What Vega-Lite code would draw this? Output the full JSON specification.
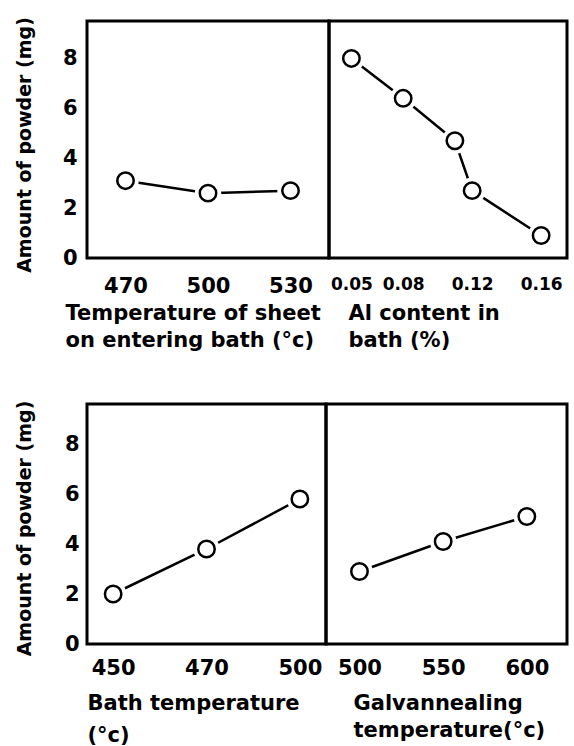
{
  "$schema": "https://vega.github.io/schema/vega-lite/v6.json",
  "background": "white",
  "padding": {"left": 13, "top": 15, "right": 0, "bottom": 0},
  "config": {
    "view": {"stroke": "black", "strokeWidth": 3},
    "font": "DejaVu Sans",
    "axis": {
      "domain": false,
      "ticks": false,
      "grid": false,
      "labelFont": "DejaVu Sans",
      "labelFontWeight": "bold",
      "labelFontSize": 21,
      "labelColor": "black",
      "labelOverlap": false,
      "labelFlush": false,
      "titleFont": "DejaVu Sans",
      "titleFontWeight": "bold",
      "titleFontSize": 21,
      "titleColor": "black"
    }
  },
  "datasets": {
    "sheet": [
      {"temp": 470, "powder": 3.1},
      {"temp": 500, "powder": 2.6},
      {"temp": 530, "powder": 2.7}
    ],
    "al": [
      {"al": 0.05, "powder": 8.0},
      {"al": 0.08, "powder": 6.4},
      {"al": 0.11, "powder": 4.7},
      {"al": 0.12, "powder": 2.7},
      {"al": 0.16, "powder": 0.9}
    ],
    "bath": [
      {"bath": 450, "powder": 2.0},
      {"bath": 470, "powder": 3.8},
      {"bath": 500, "powder": 5.8}
    ],
    "galv": [
      {"galv": 500, "powder": 2.9},
      {"galv": 550, "powder": 4.1},
      {"galv": 600, "powder": 5.1}
    ],
    "powder_ticks": [
      {"powder": 2},
      {"powder": 4},
      {"powder": 6},
      {"powder": 8}
    ]
  },
  "columns": 1,
  "align": "none",
  "spacing": 46,
  "concat": [
    {
      "spacing": 0,
      "bounds": "flush",
      "hconcat": [
        {
          "width": 242,
          "height": 237,
          "encoding": {
            "x": {
              "field": "temp",
              "type": "quantitative",
              "scale": {"domain": [456, 544], "nice": false, "zero": false},
              "axis": {
                "values": [470, 500, 530],
                "labelPadding": 17,
                "title": ["Temperature of sheet", "on entering bath (°c)"],
                "titleAlign": "left",
                "titleBaseline": "alphabetic",
                "titleX": -22,
                "titleY": 61,
                "titleLineHeight": 27
              }
            },
            "y": {
              "field": "powder",
              "type": "quantitative",
              "scale": {"domain": [0, 9.5], "nice": false},
              "axis": {
                "values": [0, 2, 4, 6, 8],
                "labelPadding": 10,
                "title": "Amount of powder (mg)",
                "titleFontSize": 19,
                "titleY": 123.5,
                "titlePadding": 28
              }
            }
          },
          "layer": [
            {
              "data": {"values": [{"temp": 470}, {"temp": 500}, {"temp": 530}]},
              "mark": {"type": "rule", "color": "black", "opacity": 1, "strokeWidth": 3},
              "encoding": {"y": {"datum": 0}, "y2": {"datum": 0.45}}
            },
            {
              "data": {"name": "powder_ticks"},
              "mark": {"type": "rule", "color": "black", "opacity": 1, "strokeWidth": 3},
              "encoding": {"x": {"datum": 456}, "x2": {"datum": 459.5}}
            },
            {"data": {"name": "sheet"}, "mark": {"type": "line", "color": "black", "strokeWidth": 2.5}},
            {"data": {"name": "sheet"}, "mark": {"type": "point", "shape": "circle", "filled": true, "color": "white", "opacity": 1, "size": 700}},
            {"data": {"name": "sheet"}, "mark": {"type": "point", "shape": "circle", "filled": false, "color": "black", "fill": "white", "fillOpacity": 1, "opacity": 1, "strokeWidth": 2.5, "size": 270}}
          ]
        },
        {
          "width": 238,
          "height": 237,
          "encoding": {
            "x": {
              "field": "al",
              "type": "quantitative",
              "scale": {"domain": [0.037, 0.175], "nice": false, "zero": false},
              "axis": {
                "values": [0.05, 0.08, 0.12, 0.16],
                "format": ".2f",
                "labelFontSize": 17,
                "labelPadding": 18,
                "title": ["Al content in", "bath (%)"],
                "titleAlign": "left",
                "titleBaseline": "alphabetic",
                "titleX": 19,
                "titleY": 61,
                "titleLineHeight": 27
              }
            },
            "y": {
              "field": "powder",
              "type": "quantitative",
              "scale": {"domain": [0, 9.5], "nice": false},
              "axis": null
            }
          },
          "layer": [
            {
              "data": {"values": [{"al": 0.05}, {"al": 0.08}, {"al": 0.12}, {"al": 0.16}]},
              "mark": {"type": "rule", "color": "black", "opacity": 1, "strokeWidth": 3},
              "encoding": {"y": {"datum": 0}, "y2": {"datum": 0.45}}
            },
            {"data": {"name": "al"}, "mark": {"type": "line", "color": "black", "strokeWidth": 2.5}},
            {"data": {"name": "al"}, "mark": {"type": "point", "shape": "circle", "filled": true, "color": "white", "opacity": 1, "size": 700}},
            {"data": {"name": "al"}, "mark": {"type": "point", "shape": "circle", "filled": false, "color": "black", "fill": "white", "fillOpacity": 1, "opacity": 1, "strokeWidth": 2.5, "size": 270}}
          ]
        }
      ]
    },
    {
      "spacing": 0,
      "bounds": "flush",
      "hconcat": [
        {
          "width": 239,
          "height": 240,
          "encoding": {
            "x": {
              "field": "bath",
              "type": "ordinal",
              "sort": "ascending",
              "scale": {"type": "point", "padding": 0.28, "domain": [450, 470, 500]},
              "axis": {
                "labelAngle": 0,
                "labelPadding": 13,
                "title": ["Bath temperature", "(°c)"],
                "titleAlign": "left",
                "titleBaseline": "alphabetic",
                "titleX": 0,
                "titleY": 65,
                "titleLineHeight": 32
              }
            },
            "y": {
              "field": "powder",
              "type": "quantitative",
              "scale": {"domain": [0, 9.6], "nice": false},
              "axis": {
                "values": [0, 2, 4, 6, 8],
                "labelPadding": 8,
                "title": "Amount of powder (mg)",
                "titleFontSize": 19,
                "titleY": 124,
                "titlePadding": 30
              }
            }
          },
          "layer": [
            {
              "data": {"values": [{"bath": 450}, {"bath": 470}, {"bath": 500}]},
              "mark": {"type": "rule", "color": "black", "opacity": 1, "strokeWidth": 3},
              "encoding": {"y": {"datum": 0}, "y2": {"datum": 0.45}}
            },
            {"data": {"name": "bath"}, "mark": {"type": "line", "color": "black", "strokeWidth": 2.5}},
            {"data": {"name": "bath"}, "mark": {"type": "point", "shape": "circle", "filled": true, "color": "white", "opacity": 1, "size": 700}},
            {"data": {"name": "bath"}, "mark": {"type": "point", "shape": "circle", "filled": false, "color": "black", "fill": "white", "fillOpacity": 1, "opacity": 1, "strokeWidth": 2.5, "size": 270}}
          ]
        },
        {
          "width": 241,
          "height": 240,
          "encoding": {
            "x": {
              "field": "galv",
              "type": "quantitative",
              "scale": {"domain": [480, 624], "nice": false, "zero": false},
              "axis": {
                "values": [500, 550, 600],
                "labelPadding": 13,
                "title": ["Galvannealing", "temperature(°c)"],
                "titleAlign": "left",
                "titleBaseline": "alphabetic",
                "titleX": 27,
                "titleY": 65,
                "titleLineHeight": 27
              }
            },
            "y": {
              "field": "powder",
              "type": "quantitative",
              "scale": {"domain": [0, 9.6], "nice": false},
              "axis": null
            }
          },
          "layer": [
            {
              "data": {"values": [{"galv": 500}, {"galv": 550}, {"galv": 600}]},
              "mark": {"type": "rule", "color": "black", "opacity": 1, "strokeWidth": 3},
              "encoding": {"y": {"datum": 0}, "y2": {"datum": 0.45}}
            },
            {"data": {"name": "galv"}, "mark": {"type": "line", "color": "black", "strokeWidth": 2.5}},
            {"data": {"name": "galv"}, "mark": {"type": "point", "shape": "circle", "filled": true, "color": "white", "opacity": 1, "size": 700}},
            {"data": {"name": "galv"}, "mark": {"type": "point", "shape": "circle", "filled": false, "color": "black", "fill": "white", "fillOpacity": 1, "opacity": 1, "strokeWidth": 2.5, "size": 270}}
          ]
        }
      ]
    }
  ]
}
